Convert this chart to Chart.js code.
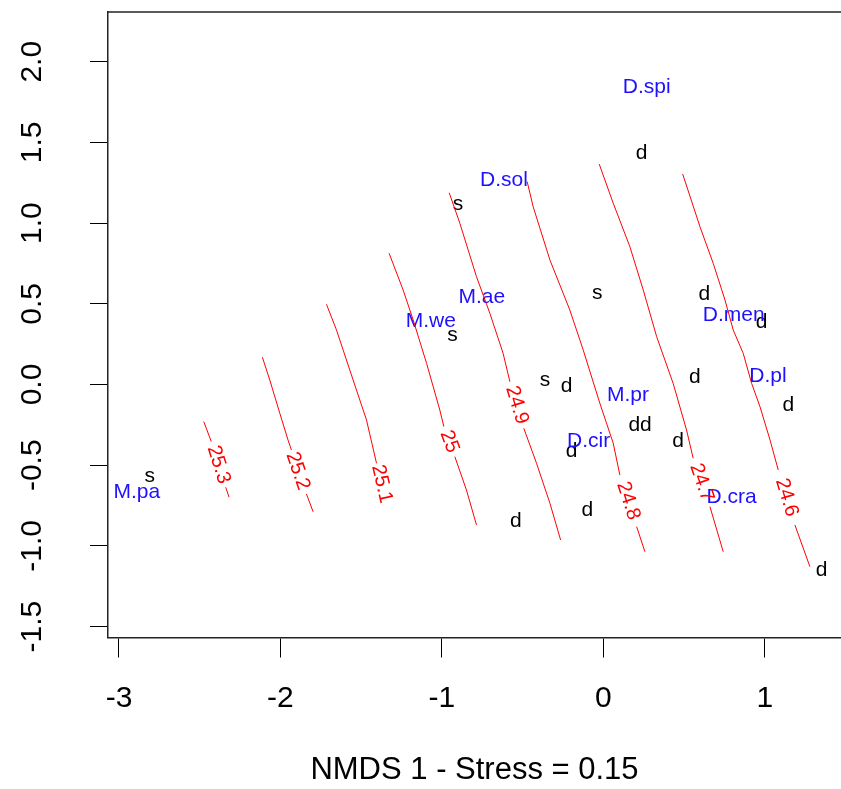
<!DOCTYPE html>
<html>
<head>
<meta charset="utf-8">
<script src="https://cdn.jsdelivr.net/npm/chart.js@4.4.0/dist/chart.umd.min.js"></script>
<style>
  html, body { margin: 0; padding: 0; background: #fff; }
</style>
</head>
<body>
<canvas id="nmds" width="841" height="789"></canvas>
<script>
//limites de los ejes y ticks
const xMin = -3.068, xMax = 1.4715;
const yMin = -1.5675, yMax = 2.308;
const xTicks = [-3, -2, -1, 0, 1];
const yTicks = [-1.5, -1.0, -0.5, 0.0, 0.5, 1.0, 1.5, 2.0];
const yTickLabels = ['-1.5', '-1.0', '-0.5', '0.0', '0.5', '1.0', '1.5', '2.0'];

//sitios (s / d)
const siteType = ['s', 's', 's', 's', 's', 'd', 'd', 'd', 'd', 'd', 'd', 'd', 'd', 'd', 'd', 'd', 'd', 'd'];
const siteX = [-2.810, -0.900, -0.934, -0.038, -0.362, 0.237, 0.625, 0.980, -0.228, 0.191, 0.263, -0.197, 0.463, 0.567, 1.145, -0.542, -0.100, 1.352];
const siteY = [-0.571, 1.118, 0.307, 0.565, 0.028, 1.432, 0.561, 0.389, -0.009, -0.251, -0.251, -0.416, -0.350, 0.048, -0.127, -0.850, -0.778, -1.149];

//especies
const speciesNames = ['D.spi', 'D.sol', 'M.ae', 'M.we', 'D.men', 'M.pr', 'D.pl', 'D.cir', 'D.cra', 'M.pa'];
const speciesX = [0.268, -0.616, -0.753, -1.069, 0.807, 0.152, 1.019, -0.092, 0.794, -2.890];
const speciesY = [1.841, 1.263, 0.538, 0.392, 0.431, -0.065, 0.050, -0.354, -0.699, -0.666];

//curvas de nivel (null = hueco de la etiqueta)
const contourLevels = ['25.3', '25.2', '25.1', '25', '24.9', '24.8', '24.7', '24.6'];
const contourX = [
    [-2.475, -2.428, null, -2.339, -2.318],
    [-2.112, -2.066, -2.004, -1.953, -1.932, null, -1.839, -1.798],
    [-1.715, -1.653, -1.550, -1.467, -1.405],
    [-1.327, -1.240, -1.178, -1.095, -1.013, -0.988, null, -0.920, -0.848, -0.786],
    [-0.955, -0.889, -0.786, -0.703, -0.621, -0.579, null, -0.493, -0.414, -0.331, -0.265],
    [-0.472, -0.435, -0.331, -0.208, -0.125, -0.022, 0.061, 0.102, null, 0.206, 0.257],
    [-0.026, 0.061, 0.164, 0.247, 0.330, 0.432, 0.515, 0.556, null, 0.660, 0.742],
    [0.491, 0.598, 0.680, 0.753, 0.804, 0.866, 0.918, 0.970, 1.032, 1.083, null, 1.186, 1.279]
];
const contourY = [
    [-0.230, -0.354, null, -0.637, -0.699],
    [0.169, 0.028, -0.178, -0.344, -0.406, null, -0.678, -0.788],
    [0.497, 0.338, 0.028, -0.220, -0.488],
    [0.813, 0.585, 0.400, 0.131, -0.158, -0.261, null, -0.447, -0.654, -0.870],
    [1.188, 0.999, 0.668, 0.441, 0.193, 0.017, null, -0.271, -0.488, -0.736, -0.963],
    [1.257, 1.102, 0.771, 0.462, 0.214, -0.116, -0.364, -0.561, null, -0.881, -1.036],
    [1.366, 1.123, 0.854, 0.585, 0.296, 0.007, -0.282, -0.457, null, -0.757, -1.036],
    [1.304, 0.978, 0.751, 0.524, 0.338, 0.193, 0.007, -0.138, -0.344, -0.530, null, -0.870, -1.129]
];
const contourLabelX = [-2.383, -1.893, -1.372, -0.954, -0.536, 0.154, 0.608, 1.135];
const contourLabelY = [-0.496, -0.536, -0.616, -0.354, -0.127, -0.721, -0.607, -0.700];

const fam = "'Liberation Sans', Arial, sans-serif";

//datasets de las curvas
const contourSets = contourLevels.map((lvl, i) => ({
    type: 'line',
    label: lvl,
    data: contourX[i].map((x, j) => ({ x: x, y: contourY[i][j] })),
    borderColor: '#ff0000',
    borderWidth: 1,
    pointRadius: 0,
    tension: 0,
    spanGaps: false,
    fill: false
}));

//plugin que escribe los textos en la posicion de cada punto
const textoPlugin = {
    id: 'textoPlugin',
    beforeDatasetsDraw(chart) {
        const ctx = chart.ctx;
        chart.data.datasets.forEach((ds, i) => {
            if (!ds.etiquetas || ds.rotar) return;
            const meta = chart.getDatasetMeta(i);
            ctx.save();
            ctx.font = ds.fuente;
            ctx.fillStyle = ds.colorTexto;
            ctx.textAlign = 'center';
            ctx.textBaseline = 'middle';
            meta.data.forEach((p, j) => ctx.fillText(ds.etiquetas[j], p.x, p.y));
            ctx.restore();
        });
    },
    afterDatasetsDraw(chart) {
        const ctx = chart.ctx;
        chart.data.datasets.forEach((ds, i) => {
            if (!ds.rotar) return;
            const meta = chart.getDatasetMeta(i);
            meta.data.forEach((p, j) => {
                //angulo segun el tramo de la curva junto a la etiqueta
                const linea = chart.getDatasetMeta(j).data;
                const g = contourX[j].indexOf(null);
                let a, b;
                if (g > 0) { a = linea[g - 1]; b = linea[g + 1]; }
                else { a = linea[linea.length - 2]; b = linea[linea.length - 1]; }
                const ang = Math.atan2(b.y - a.y, b.x - a.x);
                ctx.save();
                ctx.translate(p.x, p.y);
                ctx.rotate(ang);
                ctx.font = ds.fuente;
                ctx.fillStyle = ds.colorTexto;
                ctx.textAlign = 'center';
                ctx.textBaseline = 'middle';
                ctx.fillText(ds.etiquetas[j], 0, 0);
                ctx.restore();
            });
        });
    },
    afterDraw(chart) {
        const ctx = chart.ctx;
        const area = chart.chartArea;
        const ys = chart.scales.y;
        ctx.save();
        //linea superior de la caja
        ctx.strokeStyle = '#222';
        ctx.lineWidth = 1.5;
        ctx.beginPath();
        ctx.moveTo(area.left, area.top);
        ctx.lineTo(area.right, area.top);
        ctx.stroke();
        //etiquetas del eje y giradas
        ctx.font = '30px ' + fam;
        ctx.fillStyle = '#000';
        ctx.textAlign = 'center';
        ctx.textBaseline = 'middle';
        yTicks.forEach((v, i) => {
            ctx.save();
            ctx.translate(area.left - 75, ys.getPixelForValue(v));
            ctx.rotate(-Math.PI / 2);
            ctx.fillText(yTickLabels[i], 0, 0);
            ctx.restore();
        });
        ctx.restore();
    }
};

const ctx = document.getElementById('nmds').getContext('2d');
window.nmdsChart = new Chart(ctx, {
    type: 'scatter',
    data: {
        datasets: [
            ...contourSets,
            {
                label: 'contornos',
                data: contourLabelX.map((x, i) => ({ x: x, y: contourLabelY[i] })),
                pointRadius: 0,
                etiquetas: contourLevels,
                rotar: true,
                fuente: '20px ' + fam,
                colorTexto: '#ff0000'
            },
            {
                label: 'sitios',
                data: siteX.map((x, i) => ({ x: x, y: siteY[i] })),
                pointRadius: 0,
                etiquetas: siteType,
                fuente: '21px ' + fam,
                colorTexto: '#000'
            },
            {
                label: 'especies',
                data: speciesX.map((x, i) => ({ x: x, y: speciesY[i] })),
                pointRadius: 0,
                etiquetas: speciesNames,
                fuente: '21px ' + fam,
                colorTexto: '#1f10ff'
            }
        ]
    },
    options: {
        responsive: false,
        animation: false,
        devicePixelRatio: 1,
        layout: { padding: { top: 12, left: 0, right: 0, bottom: 0 } },
        plugins: {
            legend: { display: false },
            tooltip: { enabled: false }
        },
        scales: {
            x: {
                type: 'linear',
                min: xMin,
                max: xMax,
                afterBuildTicks: s => { s.ticks = xTicks.map(v => ({ value: v })); },
                afterFit: s => { s.height = 151.5; },
                grid: { drawOnChartArea: false, drawTicks: true, tickLength: 20, color: '#000', lineWidth: 1 },
                border: { display: true, color: '#222', width: 1.5 },
                ticks: {
                    font: { family: fam, size: 30 },
                    color: '#000',
                    padding: 23,
                    maxRotation: 0,
                    autoSkip: false,
                    callback: v => String(v)
                },
                title: {
                    display: true,
                    text: 'NMDS 1 - Stress = 0.15',
                    font: { family: fam, size: 31 },
                    color: '#000',
                    padding: { top: 0, bottom: 0 }
                }
            },
            y: {
                type: 'linear',
                min: yMin,
                max: yMax,
                afterBuildTicks: s => { s.ticks = yTicks.map(v => ({ value: v })); },
                afterFit: s => { s.width = 108; },
                grid: { drawOnChartArea: false, drawTicks: true, tickLength: 18, color: '#000', lineWidth: 1 },
                border: { display: true, color: '#222', width: 1.5 },
                ticks: { display: false }
            }
        }
    },
    plugins: [textoPlugin]
});
</script>
</body>
</html>
